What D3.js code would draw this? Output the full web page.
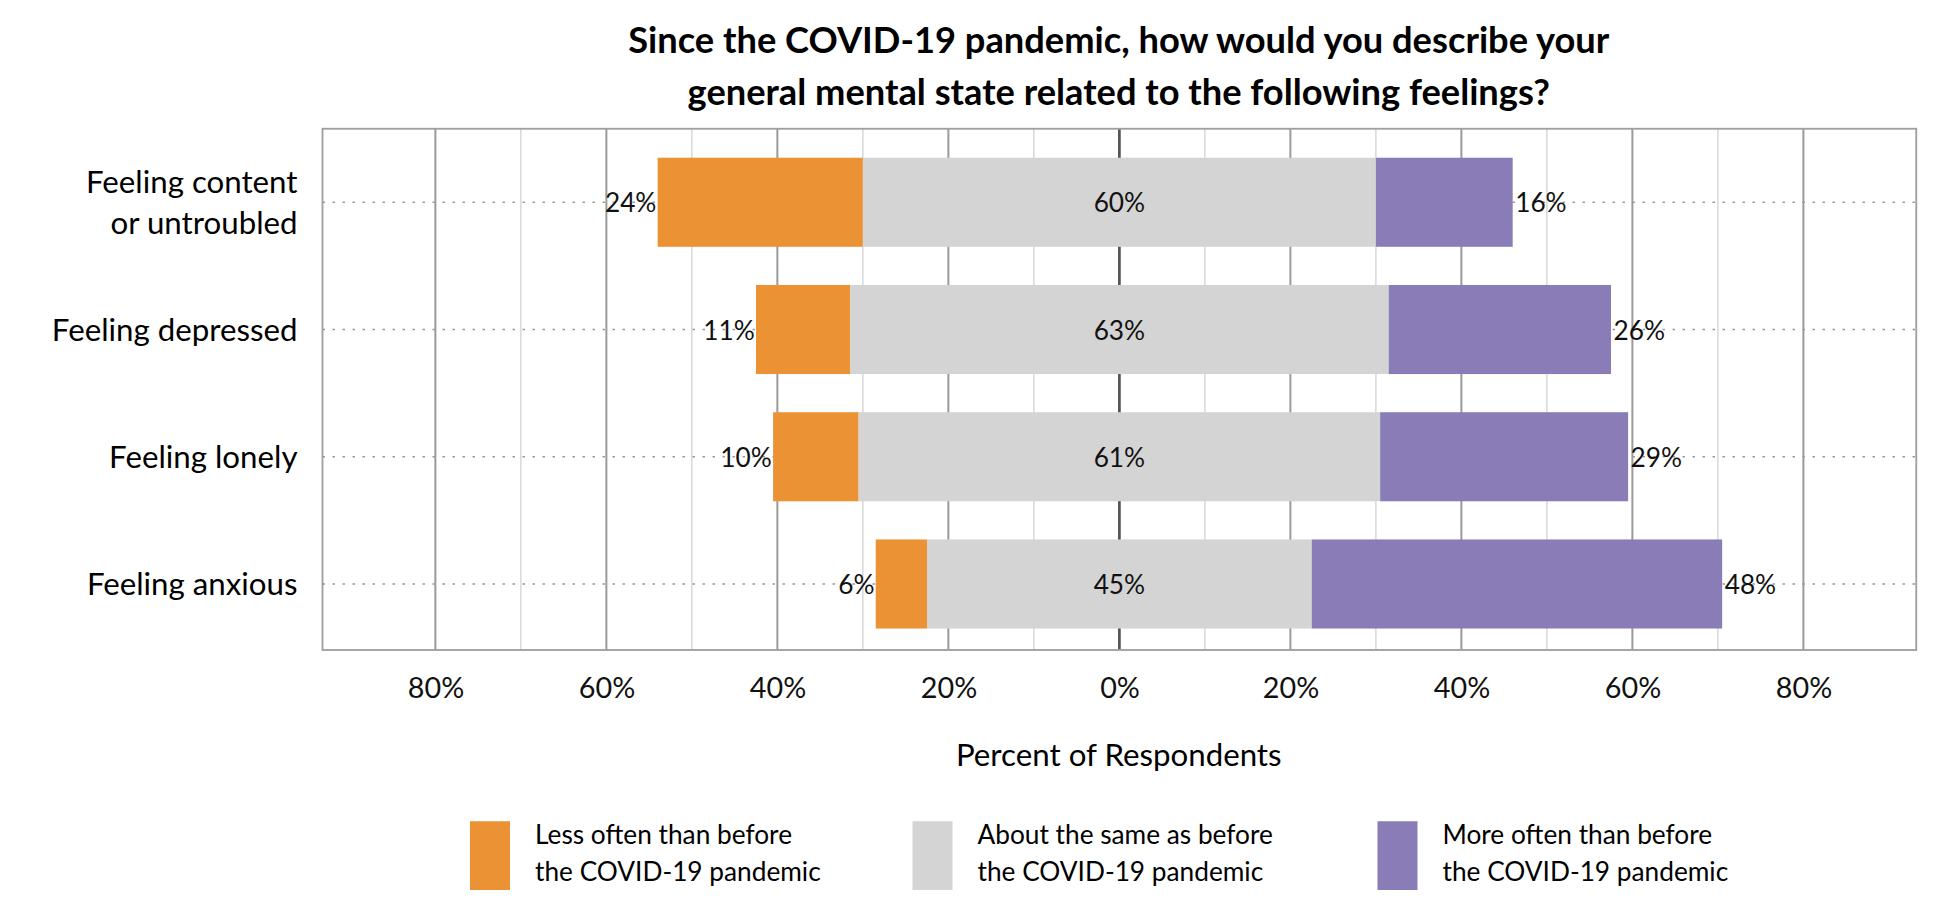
<!DOCTYPE html>
<html>
<head>
<meta charset="utf-8">
<script src="https://cdn.jsdelivr.net/npm/d3@7"></script>
<style>
  body { margin: 0; background: #fff; }
  svg { font-family: Lato, "Open Sans", sans-serif; }
</style>
</head>
<body>
<div id="chart"></div>
<script>
// data
let categories = [["Feeling content", "or untroubled"], ["Feeling depressed"], ["Feeling lonely"], ["Feeling anxious"]]
let lessOften = [24, 11, 10, 6]
let aboutSame = [60, 63, 61, 45]
let moreOften = [16, 26, 29, 48]
let tickValues = [-80, -60, -40, -20, 0, 20, 40, 60, 80]
let legendLabels = [["Less often than before", "the COVID-19 pandemic"],
                    ["About the same as before", "the COVID-19 pandemic"],
                    ["More often than before", "the COVID-19 pandemic"]]
let colors = ["#EB9234", "#D4D4D4", "#897CB7"]

let W = 1560, H = 720
let plot = {left: 258, right: 1533, top: 103, bottom: 520}

let svg = d3.select("#chart").append("svg")
    .attr("width", 1950).attr("height", 900)
    .attr("viewBox", `0 0 ${W} ${H}`)

let x = d3.scaleLinear().domain([-93.2, 93.2]).range([plot.left, plot.right])
let y = d3.scaleBand().domain(d3.range(categories.length))
    .range([plot.top + 13, plot.bottom - 7]).paddingInner(0.3).paddingOuter(0.1)

// title
svg.append("text").attr("x", 895).attr("text-anchor", "middle")
    .attr("font-size", 29).attr("font-weight", "bold")
    .selectAll("tspan").data(["Since the COVID-19 pandemic, how would you describe your",
                              "general mental state related to the following feelings?"])
    .enter().append("tspan").attr("x", 895).attr("y", (d, i) => 42 + i * 42).text(d => d)

// gridlines
let minor = d3.range(-80, 81, 10)
svg.append("g").selectAll("line").data(minor).enter().append("line")
    .attr("x1", d => x(d)).attr("x2", d => x(d))
    .attr("y1", plot.top).attr("y2", plot.bottom)
    .attr("stroke", d => d == 0 ? "#555" : (d % 20 == 0 ? "#9a9a9a" : "#d0d0d0"))
    .attr("stroke-width", d => d == 0 ? 2.2 : (d % 20 == 0 ? 1.6 : 1))

svg.append("rect").attr("x", plot.left).attr("y", plot.top)
    .attr("width", plot.right - plot.left).attr("height", plot.bottom - plot.top)
    .attr("fill", "none").attr("stroke", "#a0a0a0").attr("stroke-width", 1.5)

// dotted category lines
svg.append("g").selectAll("line").data(categories).enter().append("line")
    .attr("x1", plot.left).attr("x2", plot.right)
    .attr("y1", (d, i) => y(i) + y.bandwidth() / 2).attr("y2", (d, i) => y(i) + y.bandwidth() / 2)
    .attr("stroke", "#999").attr("stroke-width", 1.3).attr("stroke-dasharray", "2,6")

// bars
let rows = categories.map((c, i) => {
    let half = aboutSame[i] / 2
    return [
        {i, x0: -half - lessOften[i], x1: -half, v: lessOften[i], c: colors[0]},
        {i, x0: -half, x1: half, v: aboutSame[i], c: colors[1]},
        {i, x0: half, x1: half + moreOften[i], v: moreOften[i], c: colors[2]}
    ]
})
let segs = rows.flat()
svg.append("g").selectAll("rect").data(segs).enter().append("rect")
    .attr("x", d => x(d.x0)).attr("width", d => x(d.x1) - x(d.x0))
    .attr("y", d => y(d.i)).attr("height", y.bandwidth())
    .attr("fill", d => d.c)

// value labels
let lab = svg.append("g").attr("font-size", 21).attr("fill", "#111")
rows.forEach(r => {
    let cy = y(r[0].i) + y.bandwidth() / 2 + 8
    lab.append("text").attr("x", x(r[0].x0) - 1).attr("y", cy).attr("text-anchor", "end").text(r[0].v + "%")
    lab.append("text").attr("x", x(0)).attr("y", cy).attr("text-anchor", "middle").text(r[1].v + "%")
    lab.append("text").attr("x", x(r[2].x1) + 2).attr("y", cy).attr("text-anchor", "start").text(r[2].v + "%")
})

// category labels
let cl = svg.append("g").attr("font-size", 25).attr("text-anchor", "end")
categories.forEach((c, i) => {
    let cy = y(i) + y.bandwidth() / 2
    let t = cl.append("text")
    c.forEach((line, j) => {
        t.append("tspan").attr("x", 238).attr("y", cy + 9 + (j - (c.length - 1) / 2) * 33).text(line)
    })
})

// x axis
let axis = svg.append("g").attr("transform", `translate(0,${plot.bottom})`)
    .call(d3.axisBottom(x).tickValues(tickValues).tickSize(0).tickPadding(22)
        .tickFormat(d => Math.abs(d) + "%"))
axis.select(".domain").remove()
axis.selectAll("text").attr("font-size", 23).attr("font-family", "Lato, sans-serif").attr("fill", "#111")

svg.append("text").attr("x", 895).attr("y", 613).attr("text-anchor", "middle")
    .attr("font-size", 25).text("Percent of Respondents")

// legend
let legX = [376, 730, 1102]
let leg = svg.append("g")
legendLabels.forEach((l, i) => {
    leg.append("rect").attr("x", legX[i]).attr("y", 657).attr("width", 32).attr("height", 55).attr("fill", colors[i])
    let t = leg.append("text").attr("font-size", 21)
    l.forEach((line, j) => t.append("tspan").attr("x", legX[i] + 52).attr("y", 675 + j * 30).text(line))
})
</script>
</body>
</html>
